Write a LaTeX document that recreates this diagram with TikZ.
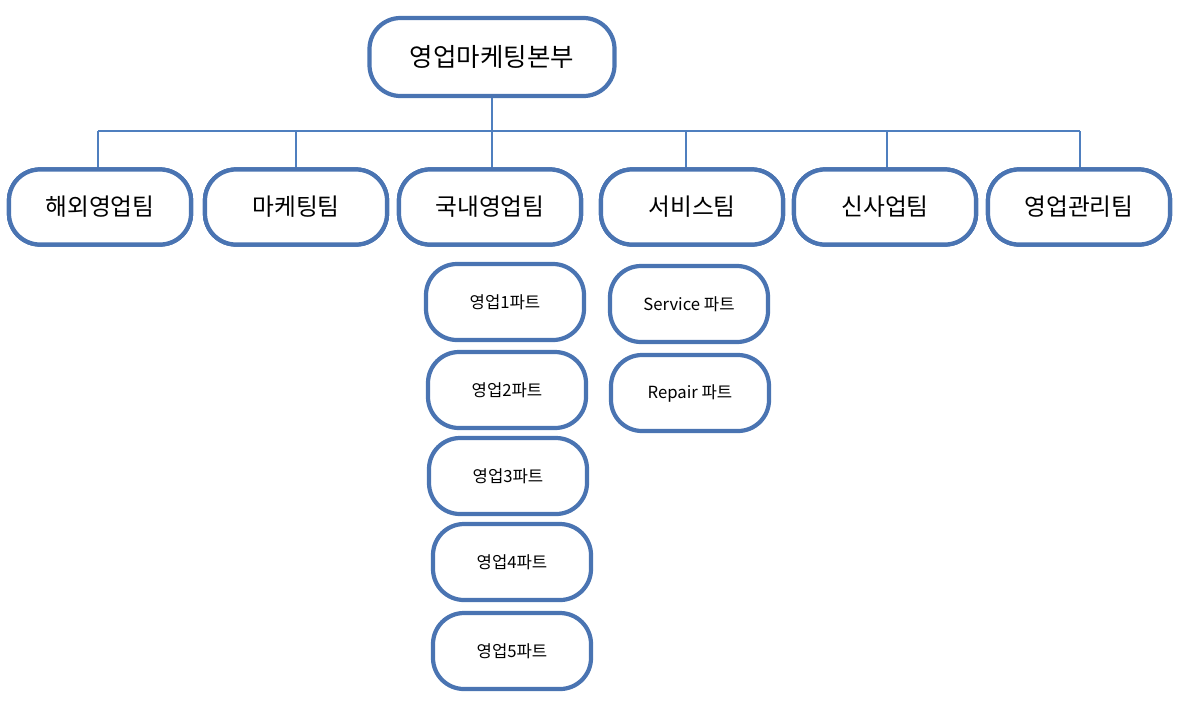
\documentclass[tikz,border=0pt]{standalone}
\usepackage{fontspec}
\setmainfont{Noto Sans CJK KR}
\begin{document}
\begin{tikzpicture}[x=0.02cm,y=-0.02cm,
 box/.style={draw=boxc,line width=2.4pt,fill=white,rounded corners=0.62cm,inner sep=0pt,align=center},
 conn/.style={draw=linec,line width=1.2pt}]
\definecolor{boxc}{HTML}{4A74B2}
\definecolor{linec}{HTML}{4F7FBF}
\useasboundingbox (0,0) rectangle (1185,704);
\node[box,minimum width=245*0.02cm,minimum height=78*0.02cm,font=\fontsize{14.5}{16}\selectfont] (top) at (492,57) {영업마케팅본부};
\coordinate (h) at (492,131);
\foreach \n/\x/\t in {a/100/해외영업팀,b/296/마케팅팀,c/490/국내영업팀,d/692/서비스팀,e/885/신사업팀,f/1079/영업관리팀}{
 \node[box,minimum width=182*0.02cm,minimum height=75*0.02cm,font=\fontsize{13.5}{15}\selectfont] (\n) at (\x,207) {\t};
}
\draw[conn] (top.south) -- (h);
\draw[conn] (98,131) -- (1080,131);
\foreach \n/\x in {a/98,b/296,c/492,d/686,e/887,f/1080}{
 \draw[conn] (\x,131) -- (\x,207) coordinate (t\n);
}
\foreach \n in {a,b,c,d,e,f}{\node[box,minimum width=182*0.02cm,minimum height=75*0.02cm,font=\fontsize{13.5}{15}\selectfont] at (\n) {};}
\foreach \n/\x/\t in {a/100/해외영업팀,b/296/마케팅팀,c/490/국내영업팀,d/692/서비스팀,e/885/신사업팀,f/1079/영업관리팀}{
 \node[box,minimum width=182*0.02cm,minimum height=75*0.02cm,font=\fontsize{13.5}{15}\selectfont] (\n) at (\x,207) {\t};
}
\tikzset{part/.style={box,minimum width=158*0.02cm,minimum height=76*0.02cm,font=\fontsize{9.5}{11}\selectfont}}
\node[part] (p1) at (505,302) {영업1파트};
\node[part] (p2) at (507,390) {영업2파트};
\node[part] (p3) at (508,476) {영업3파트};
\node[part] (p4) at (512,562) {영업4파트};
\node[part] (p5) at (512,651) {영업5파트};
\node[part] (s1) at (689,304) {Service 파트};
\node[part] (s2) at (690,393) {Repair 파트};
\end{tikzpicture}
\end{document}
